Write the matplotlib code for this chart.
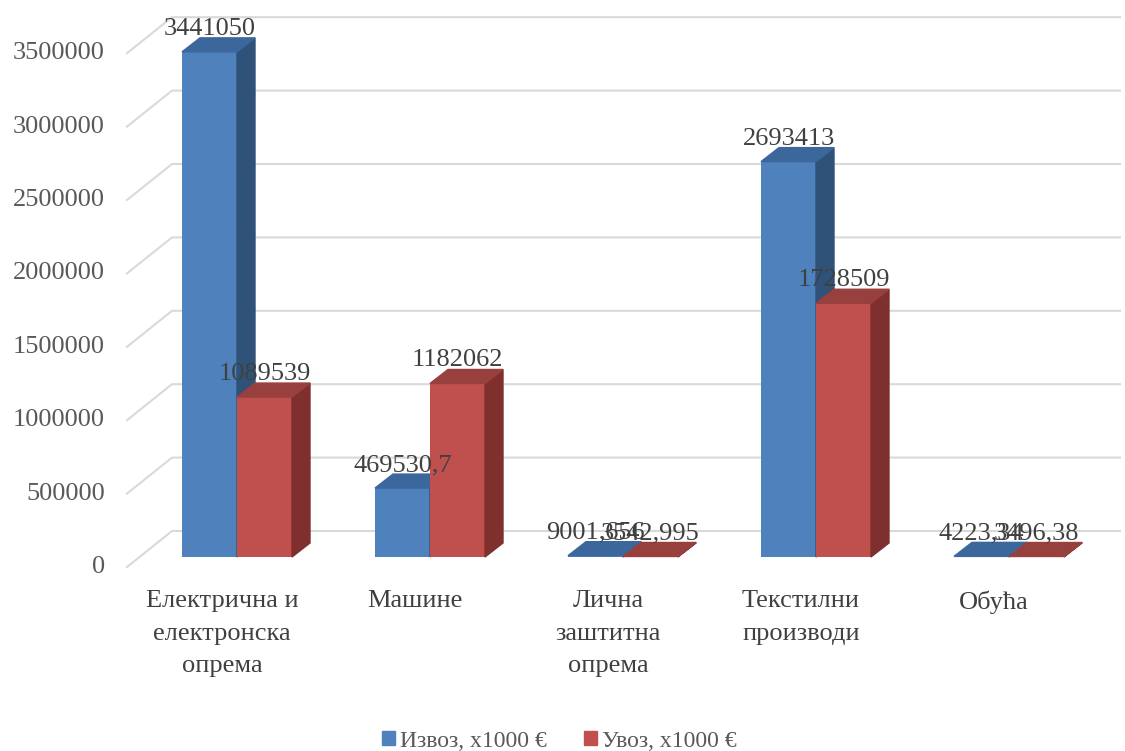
import matplotlib.pyplot as plt
from matplotlib.patches import Polygon, Patch

# podaci
kategorije = ['Електрична и\nелектронска\nопрема', 'Машине', 'Лична\nзаштитна\nопрема',
              'Текстилни\nпроизводи', 'Обућа']
izvoz = [3441050, 469530.7, 9001.656, 2693413, 4223.34]
uvoz = [1089539, 1182062, 3542.995, 1728509, 3496.38]
serije = ['Извоз, x1000 €', 'Увоз, x1000 €']
yticks = [0, 500000, 1000000, 1500000, 2000000, 2500000, 3000000, 3500000]

# boje: prednja strana, bok, vrh
boje = [('#4f81bd', '#2f5279', '#3c679c'),
        ('#c0504d', '#7f302e', '#98403d')]

plt.rcParams['font.family'] = ['Liberation Serif', 'DejaVu Serif']

W, H = 1125, 751
fig = plt.figure(figsize=(W / 100, H / 100), dpi=100)
ax = fig.add_axes([0, 0, 1, 1])

# px -> podaci (kategorija 0 centar na x=237px, nula na y=557px)
PX = 1 / 193.0
PY = 1e6 / 146.8
ax.set_xlim(-237 * PX, (W - 237) * PX)
ax.set_ylim(-(H - 557) * PY, 557 * PY)
ax.axis('off')

sirina = 55 * PX
dub_x, dub_y = 18 * PX, 14 * PY

# mreza: bocni zid + zadnji zid
x_pred, x_zad, x_kraj = -110 * PX, -65 * PX, 883 * PX
for v in yticks:
    y1 = v - 10 * PY
    y2 = v + 26 * PY
    ax.plot([x_pred, x_zad, x_kraj], [y1, y2, y2], color='#d9d9d9', lw=1.5, zorder=0)
    ax.text(-132 * PX, y1, str(v), ha='right', va='center', fontsize=19, color='#595959')


def fmt(v):
    if float(v).is_integer():
        return str(int(v))
    return str(v).replace('.', ',')


def bar3d(x0, v, c):
    ax.bar(x0, v, width=sirina, align='edge', color=c[0], zorder=2)
    x1 = x0 + sirina
    bok = [(x1, 0), (x1 + dub_x, dub_y), (x1 + dub_x, v + dub_y), (x1, v)]
    vrh = [(x0, v), (x1, v), (x1 + dub_x, v + dub_y), (x0 + dub_x, v + dub_y)]
    ax.add_patch(Polygon(bok, closed=True, color=c[1], zorder=2))
    ax.add_patch(Polygon(vrh, closed=True, color=c[2], zorder=2))
    ax.text(x0 + sirina / 2, v + 17 * PY, fmt(v), ha='center', va='baseline',
            fontsize=19, color='#404040', zorder=5)


for i in range(len(kategorije)):
    bar3d(i - sirina, izvoz[i], boje[0])
    bar3d(i, uvoz[i], boje[1])
    ax.text(i - 15 * PX, -33 * PY, kategorije[i], ha='center', va='top',
            fontsize=19, color='#404040', linespacing=1.62)

ruke = [Patch(color=boje[0][0]), Patch(color=boje[1][0])]
fig.legend(ruke, serije, loc='center', bbox_to_anchor=(0.497, 0.013), ncol=2,
           frameon=False, fontsize=17, handlelength=0.55, handleheight=0.55,
           handletextpad=0.2, columnspacing=1.6, labelcolor='#595959')

fig.savefig('out.png', dpi=100)
